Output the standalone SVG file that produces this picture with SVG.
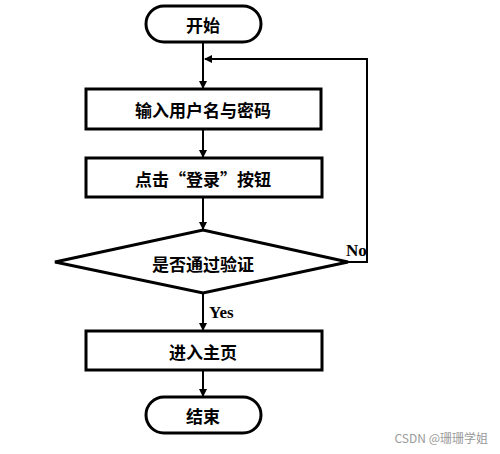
<svg xmlns="http://www.w3.org/2000/svg" width="500" height="454" viewBox="0 0 500 454">
<style>
.s{fill:#fff;stroke:#000;stroke-width:3}
.t{font-family:"Noto Sans CJK SC","Liberation Sans",sans-serif;font-weight:bold;font-size:17px;text-anchor:middle;dominant-baseline:central}
.l{font-family:"Liberation Serif",serif;font-weight:bold;font-size:17px}
.c{fill:none;stroke:#000;stroke-width:2}
</style>
<defs><marker id="a" markerWidth="8" markerHeight="8" refX="7" refY="4" orient="auto" markerUnits="userSpaceOnUse"><path d="M0,0 L8,4 L0,8 z" fill="#000"/></marker></defs>
<rect width="500" height="454" fill="#fff"/>
<g id="connectors">
<path class="c" d="M203,42 V88" marker-end="url(#a)"/>
<path class="c" d="M203,129 V157" marker-end="url(#a)"/>
<path class="c" d="M203,197 V229" marker-end="url(#a)"/>
<path class="c" d="M203,293 V330" marker-end="url(#a)"/>
<path class="c" d="M203,370 V396" marker-end="url(#a)"/>
<path class="c" d="M348,262 H367 V59 H205" marker-end="url(#a)"/>
<text class="l" x="346" y="256">No</text>
<text class="l" x="209" y="318">Yes</text>
</g>
<g id="start"><rect class="s" x="146" y="6" width="115" height="36" rx="18"/><text class="t" x="203" y="24">开始</text></g>
<g id="input"><rect class="s" x="86" y="89" width="235" height="40"/><text class="t" x="203" y="109">输入用户名与密码</text></g>
<g id="click"><rect class="s" x="86" y="158" width="236" height="39"/><text class="t" x="203" y="178">点击“登录”按钮</text></g>
<g id="check"><polygon class="s" points="55,262 203,230 348,262 203,293"/><text class="t" x="203" y="263">是否通过验证</text></g>
<g id="home"><rect class="s" x="86" y="331" width="236" height="39"/><text class="t" x="203" y="351">进入主页</text></g>
<g id="end"><rect class="s" x="146" y="397" width="115" height="36" rx="18"/><text class="t" x="203" y="415">结束</text></g>
<text x="488" y="443" font-family="Noto Sans CJK SC,Liberation Sans,sans-serif" font-size="12" fill="#999" text-anchor="end">CSDN @珊珊学姐</text>
</svg>
